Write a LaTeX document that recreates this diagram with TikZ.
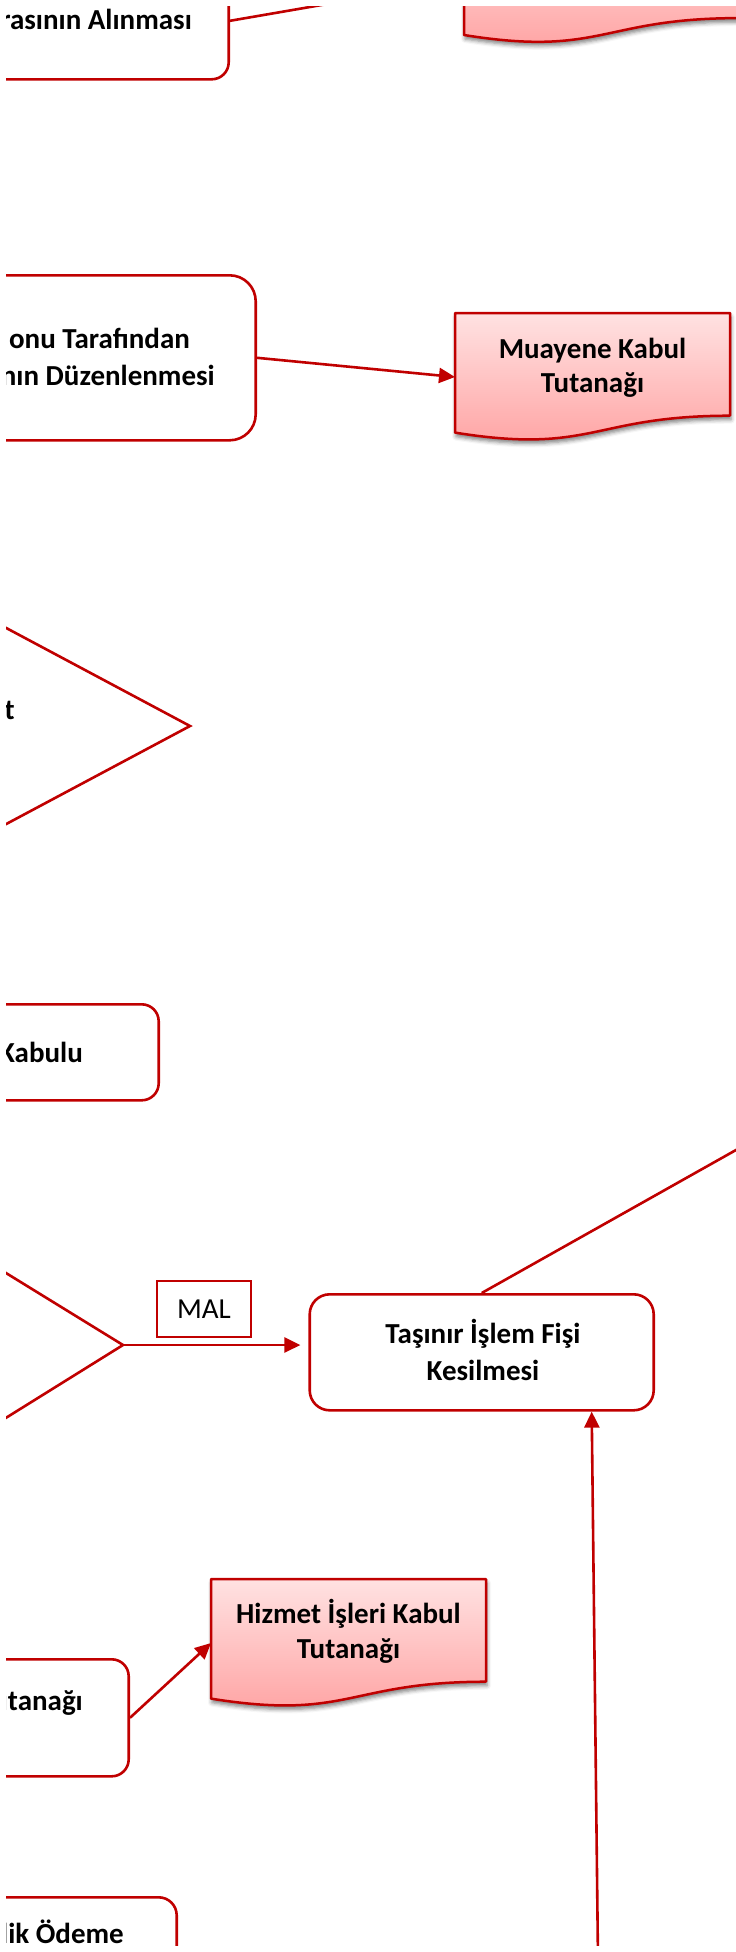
\documentclass[tikz,border=0pt]{standalone}
\usepackage{fontspec}
\setmainfont{Carlito}
\usetikzlibrary{arrows.meta,calc,shadows.blur}
\definecolor{myred}{RGB}{192,0,0}
\definecolor{doctop}{RGB}{255,226,226}
\definecolor{docbot}{RGB}{255,160,160}
\begin{document}
\begin{tikzpicture}[x=1pt,y=-1pt,
  rbox/.style={draw=myred,line width=2.6pt,fill=white,rounded corners=#1,inner sep=0pt,anchor=north east},
  lbl/.style={font=\fontsize{29}{35}\selectfont\bfseries,inner sep=0pt,text=black},
  conn/.style={draw=myred,line width=2.6pt},
  arr/.style={conn,-{Triangle[length=16pt,width=15pt]}},
  docpath/.style={draw=myred,line width=2.5pt,top color=doctop,bottom color=docbot,line join=round,
     blur shadow={shadow xshift=1pt,shadow yshift=-4pt,shadow blur radius=4pt,shadow opacity=50}},
  docnode/.style={inner sep=0pt,outer sep=0pt,minimum width=275pt,minimum height=128pt}
]
\useasboundingbox (0,0) rectangle (736,1952);
\begin{scope}
\clip (6,6) rectangle (736,1945);

% document shapes
\path[docpath] (464,-84.6) -- (739,-84.6) -- (739,18.1) .. controls (601.5,18.1) and (601.5,57.2) .. (464,35) -- cycle;
\node[docnode] (doc1) at (601.5,-20.6) {};
\path[docpath] (455,313) -- (730,313) -- (730,415.7) .. controls (592.5,415.7) and (592.5,454.8) .. (455,432.6) -- cycle;
\node[docnode] (doc2) at (592.5,377) {};
\node[lbl,font=\fontsize{29}{34}\selectfont\bfseries,align=center,anchor=base] (doc2t) at (592.5,392) {Muayene Kabul\\Tutanağı};
\path[docpath] (211,1579) -- (486,1579) -- (486,1681.7) .. controls (348.5,1681.7) and (348.5,1720.8) .. (211,1698.6) -- cycle;
\node[docnode] (doc3) at (348.5,1643) {};
\node[lbl,align=center,anchor=base] (doc3t) at (348.5,1658) {Hizmet İşleri Kabul\\Tutanağı};

% process boxes
\node[rbox=17pt,minimum width=300pt,minimum height=117pt] (b1) at (230,-39) {};
\node[lbl,anchor=base east] (b1t) at (192,29) {rasının Alınması};
\node[rbox=26pt,minimum width=380pt,minimum height=165pt] (b2) at (257,274) {};
\node[lbl,anchor=base east] (b2t1) at (190,348) {onu Tarafından};
\node[lbl,anchor=base east] (b2t2) at (215,385) {ının Düzenlenmesi};
\node[rbox=17pt,minimum width=250pt,minimum height=96pt] (b3) at (160,1003) {};
\node[lbl,anchor=base east] (b3t) at (83,1062) {Kabulu};
\node[rbox=20pt,minimum width=344pt,minimum height=116pt] (tas) at (655,1293) {};
\node[lbl,font=\fontsize{29}{37}\selectfont\bfseries,align=center,anchor=base] (tast) at (483,1380) {Taşınır İşlem Fişi\\Kesilmesi};
\node[rbox=17pt,minimum width=250pt,minimum height=117pt] (b5) at (130,1658) {};
\node[lbl,anchor=base east] (b5t) at (83,1710) {utanağı};
\node[rbox=18pt,minimum width=300pt,minimum height=117pt] (b6) at (178,1896) {};
\node[lbl,anchor=base east] (b6t) at (124,1943) {lik Ödeme};

% label box
\node[draw=myred,line width=2.2pt,minimum width=94pt,minimum height=56pt,inner sep=0pt,
      font=\fontsize{29}{35}\selectfont] (mal) at (204,1309) {MAL};

% decision shapes (clipped)
\coordinate (d1) at (190,726);
\coordinate (d1a) at (-20,614);
\coordinate (d1b) at (-20,838);
\draw[conn,line join=miter] (d1a) -- (d1) -- (d1b);
\node[lbl,anchor=base east] (d1t) at (15,719) {t};
\coordinate (d2) at (123,1345);
\coordinate (d2a) at (-20,1257);
\coordinate (d2b) at (-20,1434);
\draw[conn,line join=miter] (d2a) -- (d2) -- (d2b);

% connectors
\coordinate (c1) at (420,-12);
\draw[conn] (b1.east) -- (c1);
\draw[arr] (b2.east) -- (doc2.west);
\draw[arr,shorten >=8pt] (d2) -- (tas.west |- d2);
\coordinate (c2) at (800,1114);
\draw[conn] (tas.north) -- (c2);
\coordinate (c3) at (598,1960);
\draw[arr] (c3) -- ($(tas.south)+(110,0)$);
\draw[arr] (b5.east) -- (doc3.west);
\end{scope}
\end{tikzpicture}
\end{document}
